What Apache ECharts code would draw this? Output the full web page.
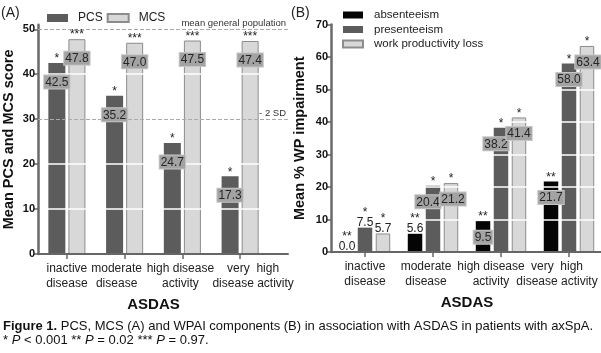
<!DOCTYPE html>
<html>
<head>
<meta charset="utf-8">
<script src="https://cdn.jsdelivr.net/npm/echarts@6/dist/echarts.min.js"></script>
<style>
html, body { margin: 0; padding: 0; background: #fff; }
#main { width: 601px; height: 353px; }
</style>
</head>
<body>
<div id="main"></div>
<script>
// categories (ASDAS)
var categories = ['inactive\ndisease', 'moderate\ndisease', 'high disease\nactivity', 'very  high\ndisease activity'];

// panel A
var pcs = [42.5, 35.2, 24.7, 17.3];
var mcs = [47.8, 47.0, 47.5, 47.4];
var pcsStars = ['*', '*', '*', '*'];
var mcsStars = ['***', '***', '***', '***'];
var yTicksA = [0, 10, 20, 30, 40, 50];

// panel B
var absenteeism = [0.0, 5.6, 9.5, 21.7];
var presenteeism = [7.5, 20.4, 38.2, 58.0];
var productivityLoss = [5.7, 21.2, 41.4, 63.4];
var absStars = ['**', '**', '**', '**'];
var presStars = ['*', '*', '*', '*'];
var lossStars = ['*', '*', '*', '*'];
// value drawn in a grey box (true) or plain above the bar (false)
var absBoxed = [false, false, true, true];
var presBoxed = [false, true, true, true];
var lossBoxed = [false, true, true, true];

var FONT = 'Liberation Sans, Arial, sans-serif';
var myChart = echarts.init(document.getElementById('main'));

// horizontal shift of each category label, px (the original labels are not centred)
function catItems(shift) {
	return categories.map(function (c, i) {
		var d = shift[i];
		return { value: c, textStyle: { padding: d >= 0 ? [0, 0, 0, 2 * d] : [0, -2 * d, 0, 0] } };
	});
}

var boxLabel = {
	backgroundColor: '#a3a3a3',
	borderColor: '#c6c6c6',
	borderWidth: 1,
	padding: [1, 1, 0, 1]
};

// stars and value labels are markPoints so they sit above the white grid lines
function barSeries(name, axis, values, stars, boxed, color, border, boxOffset, boxShift) {
	var points = [];
	values.forEach(function (v, i) {
		var txt = v.toFixed(1);
		if (boxed[i]) {
			points.push({ coord: [i, v], value: v, label: { formatter: '{s|' + stars[i] + '}', offset: [0, -4] } });
			points.push({ coord: [i, v], value: v, label: Object.assign({ formatter: txt, offset: [boxShift ? boxShift[i] : 0, boxOffset] }, boxLabel) });
		} else {
			points.push({ coord: [i, v], value: v, label: { formatter: '{s|' + stars[i] + '}\n{v|' + txt + '}', offset: [0, -9] } });
		}
	});
	return {
		name: name,
		type: 'bar',
		xAxisIndex: axis,
		yAxisIndex: axis,
		data: values,
		barWidth: axis === 0 ? 17 : 14.5,
		barGap: axis === 0 ? '18%' : '24%',
		itemStyle: { color: color, borderColor: border || color, borderWidth: border ? 1 : 0 },
		markPoint: {
			symbol: 'rect',
			symbolSize: 1,
			silent: true,
			z: 5,
			itemStyle: { color: 'rgba(0,0,0,0)' },
			label: {
				show: true,
				position: 'inside',
				fontFamily: FONT,
				fontSize: 12,
				color: '#262626',
				rich: {
					s: { fontFamily: FONT, fontSize: 12, lineHeight: 8, color: '#222' },
					v: { fontFamily: FONT, fontSize: 12, lineHeight: 12, color: '#222' }
				}
			},
			data: points
		}
	};
}

var allBoxed = [true, true, true, true];

var axisLabelY = { fontFamily: FONT, fontWeight: 'bold', fontSize: 11, color: '#111', margin: 3 };
var axisNameY = { fontFamily: FONT, fontWeight: 'bold', fontSize: 14.5, color: '#111' };
var axisNameX = { fontFamily: FONT, fontWeight: 'bold', fontSize: 15, color: '#111' };
var catLabel = { fontFamily: FONT, fontSize: 12, color: '#222', lineHeight: 15, margin: 7, interval: 0 };

myChart.setOption({
	animation: false,
	title: [
		{ text: '(A)', left: 1, top: 6, padding: 0, textStyle: { fontFamily: FONT, fontSize: 14, fontWeight: 'normal', color: '#222' } },
		{ text: '(B)', left: 291, top: 6, padding: 0, textStyle: { fontFamily: FONT, fontSize: 14, fontWeight: 'normal', color: '#222' } },
		{
			text: '{b|Figure 1.} PCS, MCS (A) and WPAI components (B) in association with ASDAS in patients with axSpA.\n* {i|P} < 0.001 ** {i|P} = 0.02 *** {i|P} = 0.97.',
			left: 3, top: 319, padding: 0,
			textStyle: {
				fontFamily: FONT, fontSize: 13, fontWeight: 'normal', color: '#111', lineHeight: 14,
				rich: {
					b: { fontFamily: FONT, fontSize: 13, fontWeight: 'bold', color: '#111', lineHeight: 14 },
					i: { fontFamily: FONT, fontSize: 13, fontStyle: 'italic', color: '#111', lineHeight: 14 }
				}
			}
		}
	],

	legend: [
		{
			data: ['PCS', 'MCS'],
			left: 42, top: 7,
			itemWidth: 21, itemHeight: 8, itemGap: 4,
			icon: 'rect',
			textStyle: { fontFamily: FONT, fontSize: 12, color: '#222', padding: [0, 0, 0, 5] }
		},
		{
			data: ['absenteeism', 'presenteeism', 'work productivity loss'],
			orient: 'vertical',
			left: 337, top: 4,
			itemWidth: 20, itemHeight: 7, itemGap: 2.5,
			icon: 'rect',
			textStyle: { fontFamily: FONT, fontSize: 11.5, color: '#222', padding: [0, 0, 0, 6] }
		}
	],

	grid: [
		{ left: 38, right: 332, top: 24.8, bottom: 99, outerBoundsMode: 'none' },
		{ left: 38, right: 313, top: 24.8, bottom: 99, outerBoundsMode: 'none' },
		{ left: 331, right: -2, top: 24.5, bottom: 101, outerBoundsMode: 'none' }
	],

	xAxis: [
		{
			gridIndex: 0, type: 'category', data: catItems([0, -8, -2, 13]),
			axisLine: { show: false },
			axisTick: { show: true, alignWithLabel: true, length: 5, lineStyle: { color: '#666', width: 1.5 } },
			axisLabel: catLabel,
			name: 'ASDAS', nameLocation: 'middle', nameGap: 43, nameTextStyle: axisNameX
		},
		{
			gridIndex: 1, type: 'value', min: 0, max: 1, z: 4,
			axisLine: { show: true, lineStyle: { color: '#666', width: 2 } },
			axisTick: { show: false }, axisLabel: { show: false }, splitLine: { show: false }
		},
		{
			gridIndex: 2, type: 'category', data: catItems([0, -7, -10, -12]), z: 4,
			axisLine: { show: true, lineStyle: { color: '#666', width: 2 } },
			axisTick: { show: true, alignWithLabel: true, length: 5, lineStyle: { color: '#666', width: 1.5 } },
			axisLabel: catLabel,
			name: 'ASDAS', nameLocation: 'middle', nameGap: 43, nameTextStyle: axisNameX
		}
	],

	yAxis: [
		{
			gridIndex: 0, type: 'value', min: 0, max: 51, interval: 10, z: 3,
			axisLine: { show: true, lineStyle: { color: '#6a6a6a', width: 2.5 } },
			axisTick: { show: true, length: 4, lineStyle: { color: '#666', width: 1.5 }, customValues: yTicksA },
			axisLabel: Object.assign({ customValues: yTicksA }, axisLabelY),
			// no white line where the dashed reference lines run (30 and 50)
			splitLine: { show: true, lineStyle: { color: ['#fff', '#fff', '#fff', 'rgba(0,0,0,0)', '#fff', 'rgba(0,0,0,0)', 'rgba(0,0,0,0)'], width: 1.5 } },
			name: 'Mean PCS and MCS score', nameLocation: 'middle', nameGap: 22, nameTextStyle: axisNameY
		},
		{ gridIndex: 1, type: 'value', min: 0, max: 51, show: false },
		{
			gridIndex: 2, type: 'value', min: 0, max: 70, interval: 10, z: 3,
			axisLine: { show: true, lineStyle: { color: '#6a6a6a', width: 2.5 } },
			axisTick: { show: true, length: 4, lineStyle: { color: '#666', width: 1.5 } },
			axisLabel: axisLabelY,
			splitLine: { show: true, lineStyle: { color: '#fff', width: 1.5 } },
			name: 'Mean % WP impairment', nameLocation: 'middle', nameGap: 24, nameTextStyle: axisNameY
		}
	],

	series: [
		barSeries('PCS', 0, pcs, pcsStars, allBoxed, '#5c5c5c', null, 19),
		barSeries('MCS', 0, mcs, mcsStars, allBoxed, '#d8d8d8', '#8c8c8c', 19),
		{
			name: 'reference', type: 'line', xAxisIndex: 1, yAxisIndex: 1, data: [], z: 1,
			markLine: {
				silent: true, symbol: 'none',
				lineStyle: { color: '#aaa', type: 'dashed', width: 1 },
				label: { position: 'insideEndTop', distance: [2, 1], fontFamily: FONT, fontSize: 9.5, color: '#333' },
				data: [
					{ yAxis: 50, label: { formatter: 'mean general population' } },
					{ yAxis: 30, label: { formatter: '- 2 SD' } }
				]
			}
		},
		barSeries('absenteeism', 2, absenteeism, absStars, absBoxed, '#050505', null, 16),
		barSeries('presenteeism', 2, presenteeism, presStars, presBoxed, '#5c5c5c', null, 16, [0, -5, -5, 0]),
		barSeries('work productivity loss', 2, productivityLoss, lossStars, lossBoxed, '#d8d8d8', '#8c8c8c', 16, [0, 2, 0, 1])
	]
});
</script>
</body>
</html>
